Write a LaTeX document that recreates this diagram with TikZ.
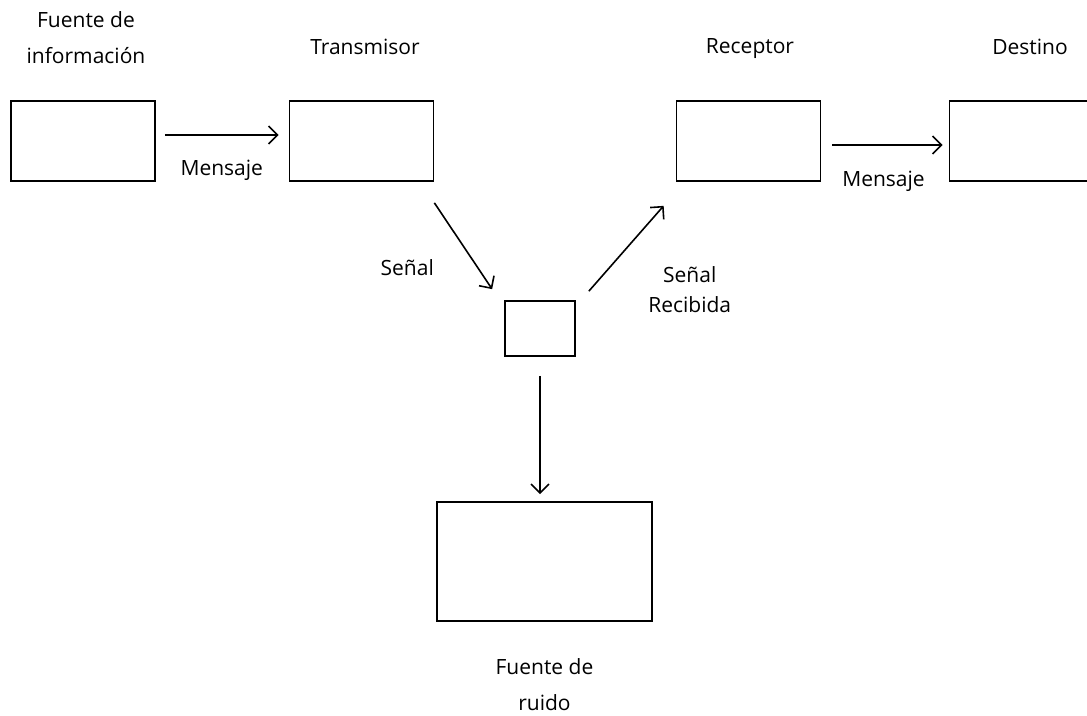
\documentclass[tikz,border=0pt]{standalone}
\usepackage{fontspec}
\setmainfont{Open Sans}
\usetikzlibrary{arrows.meta}
\tikzstyle{bloque} = [rectangle, draw=black, line width=1.7pt, minimum width=144pt, minimum height=80pt]
\tikzstyle{etiqueta} = [align=center, inner sep=0pt, font=\fontsize{21}{36}\selectfont]
\tikzstyle{flecha} = [line width=1.6pt, -{Straight Barb[length=9pt,width=18pt]}]

\begin{document}
\begin{tikzpicture}[x=1pt, y=1pt, node distance=278.5pt]
\clip (0,0) rectangle (1087,-715);
\node (fuente) [bloque] at (83,-141) {};
\node (trans) [bloque, right of=fuente] {};
\node (recep) [bloque, right of=trans, node distance=387pt] {};
\node (dest) [bloque, right of=recep, node distance=273pt] {};
\node (canal) [bloque, minimum width=70pt, minimum height=55pt] at (540,-328.5) {};
\node (ruido) [bloque, minimum width=215pt, minimum height=119pt] at (544.5,-561.5) {};

\node (tfuente) [etiqueta, above of=fuente, node distance=103pt, xshift=3pt] {Fuente de\\información};
\node (ttrans) [etiqueta, above of=trans, node distance=94pt, xshift=3.5pt] {Transmisor};
\node (trecep) [etiqueta, above of=recep, node distance=92pt, xshift=1.5pt] {Receptor};
\node (tdest) [etiqueta, above of=dest, node distance=94pt, xshift=8.5pt] {Destino};
\node (truido) [etiqueta, below of=ruido, node distance=123.5pt] {Fuente de\\ruido};

\draw[flecha] ([shift={(9pt,6pt)}]fuente.east) -- ([shift={(-10pt,6pt)}]trans.west)
  node[etiqueta, midway, yshift=-35pt] {Mensaje};
\draw[flecha] ([shift={(11pt,-4pt)}]recep.east) -- ([shift={(-6pt,-4pt)}]dest.west)
  node[etiqueta, midway, xshift=-4pt, yshift=-36pt] {Mensaje};
\draw[flecha] ([yshift=-21pt]trans.south east) -- ([shift={(-12pt,11pt)}]canal.north west)
  node[etiqueta, midway, xshift=-56pt, yshift=-22pt] {Señal};
\draw[flecha] ([shift={(13pt,9pt)}]canal.north east) -- ([shift={(-12pt,-24pt)}]recep.south west)
  node[etiqueta, midway, xshift=63.5pt, yshift=-41.5pt, font=\fontsize{21}{30}\selectfont] {Señal\\Recibida};
\draw[flecha] ([yshift=-19pt]canal.south) -- ([yshift=7pt]canal.south |- ruido.north);
\end{tikzpicture}
\end{document}
